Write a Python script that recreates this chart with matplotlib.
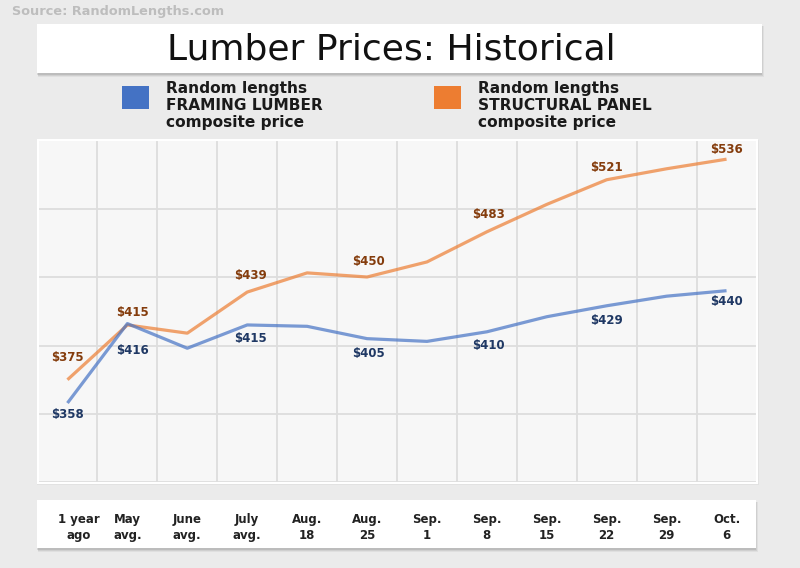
import matplotlib.pyplot as plt
import numpy as np
from matplotlib.patches import Rectangle

# data
dates = ["1 year\nago", "May\navg.", "June\navg.", "July\navg.", "Aug.\n18", "Aug.\n25",
         "Sep.\n1", "Sep.\n8", "Sep.\n15", "Sep.\n22", "Sep.\n29", "Oct.\n6"]
framing = [358, 416, 398, 415, 414, 405, 403, 410, 421, 429, 436, 440]
panel = [375, 415, 409, 439, 453, 450, 461, 483, 503, 521, 529, 536]
labelled = [0, 1, 3, 5, 7, 9, 11]

W, H = 800, 568
fig = plt.figure(figsize=(8, 5.68), dpi=100)
fig.patch.set_facecolor("#EBEBEB")


def px_rect(x0, y0, x1, y1):
    # pixel box (top-left origin) -> figure fractions
    return [x0 / W, 1 - y1 / H, (x1 - x0) / W, (y1 - y0) / H]


def white_box(x0, y0, x1, y1, z=0.5):
    for i, a in enumerate([0.05, 0.07, 0.09]):
        l, b, w, h = px_rect(x0 + 1 - i * 0.5, y0 + 2, x1 + 2 - i, y1 + 4 - i)
        fig.patches.append(Rectangle((l, b), w, h, transform=fig.transFigure,
                                     facecolor="black", alpha=a, lw=0, zorder=z - 0.1))
    l, b, w, h = px_rect(x0, y0, x1, y1)
    fig.patches.append(Rectangle((l, b), w, h, transform=fig.transFigure,
                                 facecolor="white", lw=0, zorder=z))


# source
fig.text(12 / W, 1 - 12 / H, "Source: RandomLengths.com", fontsize=9.3, fontweight="bold",
         color="#BDBDBD", family="DejaVu Sans", va="center", ha="left")

# title box
white_box(37, 24, 762, 73)
fig.text(391 / W, 1 - 60 / H, "Lumber Prices: Historical", fontsize=26, family="DejaVu Sans",
         color="#111111", ha="center", va="baseline", zorder=2)

# legend
legend_items = [("#4472C4", 122, "Random lengths\nFRAMING LUMBER\ncomposite price"),
                ("#ED7D31", 434, "Random lengths\nSTRUCTURAL PANEL\ncomposite price")]
for col, x0, txt in legend_items:
    l, b, w, h = px_rect(x0, 86, x0 + 27, 109)
    fig.patches.append(Rectangle((l, b), w, h, transform=fig.transFigure, facecolor=col, lw=0))
    fig.text((x0 + 44) / W, 1 - 81 / H, txt, fontsize=11.1, fontweight="bold", family="DejaVu Sans",
             color="#1A1A1A", ha="left", va="top", linespacing=1.18)

# plot area
l, b, w, h = px_rect(37.5, 140, 756.5, 482.5)
for i, a in enumerate([0.04, 0.06]):
    fig.patches.append(Rectangle((l - 1 / W, b - (2 - i) / H), w + (3 - i) / W, h + 2 / H,
                                 transform=fig.transFigure, facecolor="black", alpha=a,
                                 lw=0, zorder=-1))
ax = fig.add_axes([l, b, w, h])
ax.set_facecolor("#F7F7F7")
x = np.arange(len(dates))
ax.set_xlim(-0.5, len(dates) - 0.5)
ax.set_ylim(300, 550)
ax.set_xticks(np.arange(-0.5, len(dates), 1))
ax.set_yticks(np.arange(300, 551, 50))
ax.tick_params(length=0, labelbottom=False, labelleft=False)
ax.grid(color="#DDDDDD", lw=1.3)
ax.set_axisbelow(True)
for s in ax.spines.values():
    s.set_color("#FFFFFF")
    s.set_linewidth(1.5)

ax.plot(x, panel, color="#ED7D31", alpha=0.7, lw=2.3, solid_capstyle="butt")
ax.plot(x, framing, color="#4472C4", alpha=0.7, lw=2.3, solid_capstyle="butt")

# label offsets in pixels (above for panel, below for framing)
panel_dy = [22, 12, 17, 15, 17, 12, 10]
framing_dy = [11, 27, 14, 15, 14, 15, 11]
label_dx = [0, 5, 3, 1, 2, 0, 0]
for k, i in enumerate(labelled):
    ax.annotate(f"${panel[i]}", (x[i], panel[i]), xytext=(label_dx[k], panel_dy[k]),
                textcoords="offset pixels", ha="center", va="center", fontsize=8.5,
                fontweight="bold", family="DejaVu Sans", color="#843C0C")
    ax.annotate(f"${framing[i]}", (x[i], framing[i]), xytext=(label_dx[k], -framing_dy[k]),
                textcoords="offset pixels", ha="center", va="center", fontsize=8.5,
                fontweight="bold", family="DejaVu Sans", color="#1F3864")

# date box
white_box(37, 500, 756, 548)
axb = fig.add_axes(px_rect(37.5, 500, 756.5, 548))
axb.set_zorder(2)
axb.set_xlim(ax.get_xlim())
axb.axis("off")
for i, d in enumerate(dates):
    xi = i + 0.19 if i == 0 else i
    axb.text(xi, 0.43, d, transform=axb.get_xaxis_transform(), ha="center", va="center",
             fontsize=8.5, fontweight="bold", family="DejaVu Sans", color="#222222",
             linespacing=1.25)

fig.savefig("out.png", dpi=100, facecolor=fig.get_facecolor())
